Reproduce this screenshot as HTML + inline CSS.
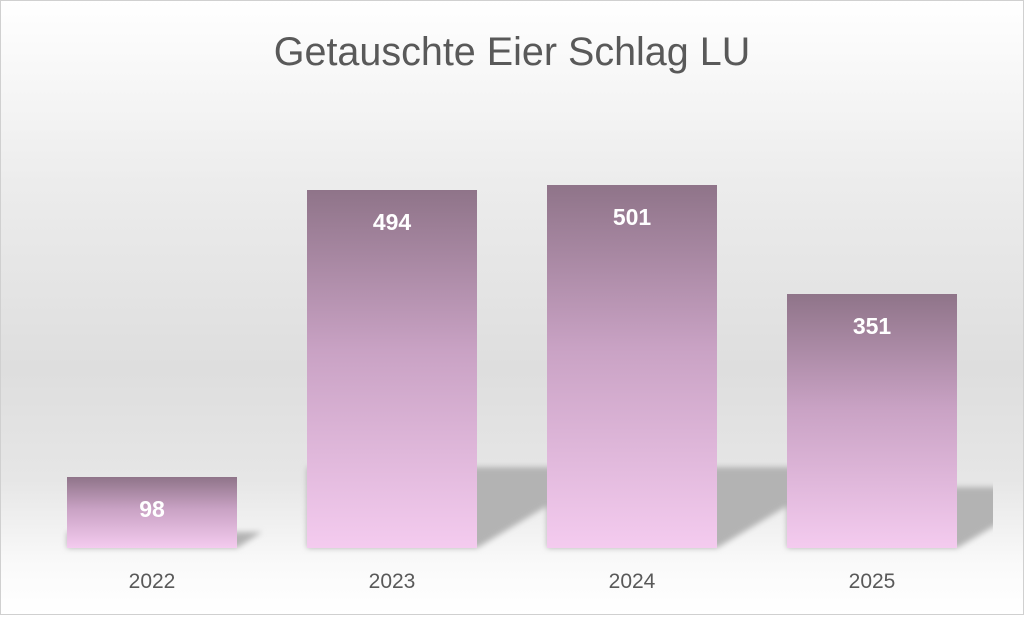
<!DOCTYPE html>
<html><head><meta charset="utf-8"><style>
body{margin:0;width:1024px;height:615px;overflow:hidden;font-family:"Liberation Sans",sans-serif}
</style></head><body>
<svg width="1024" height="615" xmlns="http://www.w3.org/2000/svg">
<defs>
<linearGradient id="bg" x1="0" y1="0" x2="0" y2="1">
<stop offset="0" stop-color="#ffffff"/><stop offset="0.3" stop-color="#ececec"/><stop offset="0.6" stop-color="#dedede"/><stop offset="0.78" stop-color="#e6e6e6"/><stop offset="0.92" stop-color="#fafafa"/><stop offset="1" stop-color="#ffffff"/>
</linearGradient>
<linearGradient id="bar" x1="0" y1="0" x2="0" y2="1">
<stop offset="0" stop-color="#8f7489"/><stop offset="0.45" stop-color="#c9a2c4"/><stop offset="1" stop-color="#f4cbef"/>
</linearGradient>
<filter id="bl" x="-50%" y="-50%" width="200%" height="200%"><feGaussianBlur stdDeviation="3"/></filter>
<clipPath id="cp"><rect x="0" y="0" width="993" height="615"/></clipPath>
</defs>
<rect x="0" y="0" width="1024" height="615" fill="url(#bg)"/>
<rect x="0.5" y="0.5" width="1023" height="614" fill="none" stroke="#d0d0d0"/>
<g clip-path="url(#cp)"><g fill="#b3b3b3" filter="url(#bl)">
<polygon points="307,548 477,548 612,467 307,467"/>
<polygon points="547,548 717,548 852,467 547,467"/>
<polygon points="787,548 957,548 1060,487 787,487"/>
<polygon points="67,548 237,548 262,532 67,532"/>
</g></g>
<g fill="url(#bar)">
<rect x="67" y="477" width="170" height="71"/>
<rect x="307" y="190" width="170" height="358"/>
<rect x="547" y="185" width="170" height="363"/>
<rect x="787" y="294" width="170" height="254"/>
</g>
<g fill="#fff" font-weight="bold" font-size="23" text-anchor="middle">
<text x="152" y="517">98</text>
<text x="392" y="230">494</text>
<text x="632" y="225">501</text>
<text x="872" y="334">351</text>
</g>
<g fill="#595959" font-size="21" text-anchor="middle">
<text x="152" y="588">2022</text>
<text x="392" y="588">2023</text>
<text x="632" y="588">2024</text>
<text x="872" y="588">2025</text>
</g>
<text x="512" y="65" fill="#595959" font-size="39.5" text-anchor="middle">Getauschte Eier Schlag LU</text>
</svg>
</body></html>
